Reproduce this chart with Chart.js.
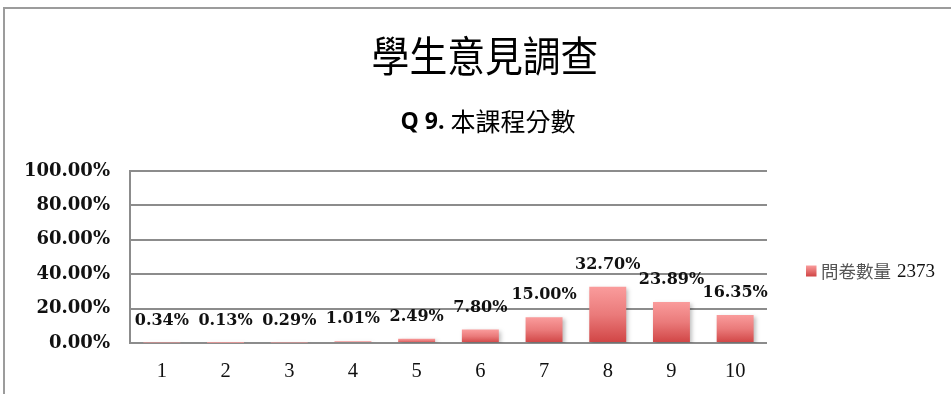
<!DOCTYPE html>
<html>
<head>
<meta charset="utf-8">
<script src="https://cdn.jsdelivr.net/npm/chart.js@4/dist/chart.umd.min.js"></script>
<style>
  html, body { margin: 0; padding: 0; background: #fff; }
  canvas { display: block; }
</style>
</head>
<body>
<canvas id="c" width="951" height="394"></canvas>
<script>
// Survey results: share of responses for each score (percent)
const titleText = '學生意見調查';
const subtitleBold = 'Q 9.';
const subtitleText = '本課程分數';
const scoreLabels = ['1', '2', '3', '4', '5', '6', '7', '8', '9', '10'];
const sharePercent = [0.34, 0.13, 0.29, 1.01, 2.49, 7.80, 15.00, 32.70, 23.89, 16.35];
const seriesLabel = '問卷數量';
const responseCount = '2373';
const yTicks = [0, 20, 40, 60, 80, 100];

const GRID = '#8c8c8c';
const LABEL_FONT = 'bold 16px "DejaVu Serif"';
const CJK = '"Noto Sans CJK TC"';

function barGradient(ctx) {
  const chart = ctx.chart;
  const y = chart.scales && chart.scales.y;
  if (!chart.chartArea || !y || ctx.parsed == null) return '#e46a6a';
  const top = y.getPixelForValue(ctx.parsed.y);
  const bottom = y.getPixelForValue(0);
  const g = chart.ctx.createLinearGradient(0, top, 0, Math.max(bottom, top + 1));
  g.addColorStop(0, '#fa9c9c');
  g.addColorStop(0.5, '#ea7a7a');
  g.addColorStop(1, '#d04444');
  return g;
}

// Frame lines, titles, legend and value labels
const decorations = {
  id: 'decorations',
  beforeDraw(chart) {
    const c = chart.ctx;
    c.save();
    c.strokeStyle = '#9c9c9c';
    c.lineWidth = 2;
    c.beginPath();
    c.moveTo(4, 394);
    c.lineTo(4, 8);
    c.lineTo(951, 8);
    c.stroke();
    c.restore();
  },
  beforeDatasetsDraw(chart) {
    const c = chart.ctx;
    c.save();
    c.shadowColor = 'rgba(0,0,0,0.25)';
    c.shadowBlur = 4;
    c.shadowOffsetX = 2;
    c.shadowOffsetY = 2;
  },
  afterDatasetsDraw(chart) {
    const c = chart.ctx;
    c.restore();
    const meta = chart.getDatasetMeta(0);
    const values = chart.data.datasets[0].data;
    c.save();
    c.font = LABEL_FONT;
    c.fillStyle = '#111';
    c.textAlign = 'center';
    c.textBaseline = 'middle';
    meta.data.forEach((bar, i) => {
      c.fillText(values[i].toFixed(2) + '%', bar.x, bar.y - 22);
    });
    c.restore();
  },
  afterDraw(chart) {
    const c = chart.ctx;
    c.save();
    // main title, slightly condensed
    c.fillStyle = '#000';
    c.textBaseline = 'middle';
    c.textAlign = 'center';
    c.font = '42px ' + CJK;
    c.translate(485, 56);
    c.scale(0.9, 1);
    c.fillText(titleText, 0, 0);
    c.restore();

    // subtitle with bold question number
    c.save();
    c.fillStyle = '#000';
    c.textBaseline = 'middle';
    c.textAlign = 'left';
    const boldFont = 'bold 23px "Open Sans"';
    const cjkFont = '25px ' + CJK;
    c.font = boldFont;
    const w1 = c.measureText(subtitleBold).width;
    c.font = cjkFont;
    const w2 = c.measureText(subtitleText).width;
    const gap = 6;
    let x = 488 - (w1 + gap + w2) / 2;
    c.font = boldFont;
    c.fillText(subtitleBold, x, 122);
    c.font = cjkFont;
    c.fillText(subtitleText, x + w1 + gap, 121);
    c.restore();

    // legend
    c.save();
    const ly = 271;
    const g = c.createLinearGradient(0, ly - 5.5, 0, ly + 5.5);
    g.addColorStop(0, '#fa9c9c');
    g.addColorStop(1, '#d04444');
    c.fillStyle = g;
    c.fillRect(806, ly - 5.5, 10.5, 11);
    c.textBaseline = 'middle';
    c.textAlign = 'left';
    c.font = '17.5px ' + CJK;
    c.fillStyle = '#555';
    c.fillText(seriesLabel, 821, ly);
    const lw = c.measureText(seriesLabel).width;
    c.font = '19px "Liberation Serif"';
    c.fillStyle = '#111';
    c.fillText(responseCount, 821 + lw + 6, ly + 1);
    c.restore();
  }
};

new Chart(document.getElementById('c'), {
  type: 'bar',
  data: {
    labels: scoreLabels,
    datasets: [{
      label: seriesLabel + ' ' + responseCount,
      data: sharePercent,
      backgroundColor: barGradient,
      borderWidth: 0,
      categoryPercentage: 0.58,
      barPercentage: 1
    }]
  },
  options: {
    responsive: false,
    animation: false,
    devicePixelRatio: 1,
    layout: { padding: { top: 171, left: 0, right: 184, bottom: 15 } },
    plugins: {
      legend: { display: false },
      title: { display: false },
      tooltip: { enabled: false }
    },
    scales: {
      x: {
        grid: { display: false, drawTicks: false },
        border: { display: false },
        ticks: {
          color: '#111',
          font: { family: 'Liberation Serif', size: 20.5 },
          padding: 16
        },
        afterFit(s) { s.height = 36; }
      },
      y: {
        min: 0,
        max: 100,
        afterBuildTicks(s) { s.ticks = yTicks.map(v => ({ value: v })); },
        grid: { color: GRID, lineWidth: 2, drawTicks: false },
        border: { display: true, color: GRID, width: 2 },
        ticks: {
          color: '#111',
          font: { family: 'DejaVu Serif', size: 18, weight: 'bold' },
          padding: 20,
          callback: v => v.toFixed(2) + '%'
        },
        afterFit(s) { s.width = 130; }
      }
    }
  },
  plugins: [decorations]
});
</script>
</body>
</html>
